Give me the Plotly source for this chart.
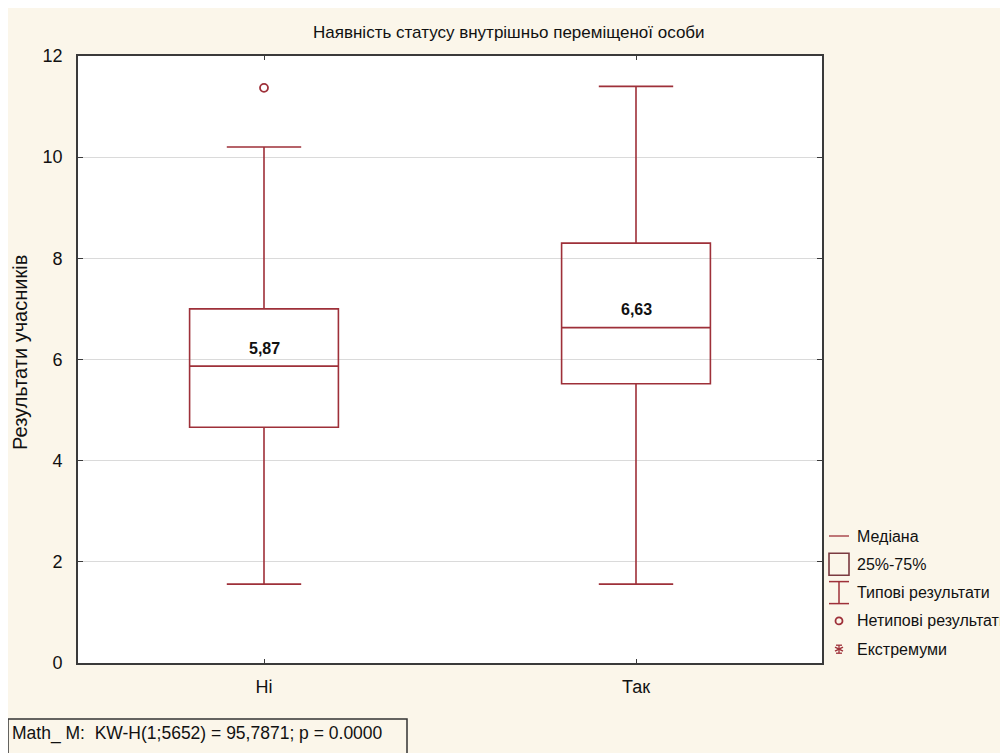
import plotly.graph_objects as go

# ---------------- data ----------------
categories = ["Ні", "Так"]
q1_vals = [4.66, 5.52]
median_vals = [5.87, 6.63]
q3_vals = [7.0, 8.3]
lower_whisker = [1.56, 1.56]
upper_whisker = [10.2, 11.4]
outlier_cats = ["Ні"]
outlier_vals = [11.37]
median_labels = ["5,87", "6,63"]
y_ticks = [0, 2, 4, 6, 8, 10, 12]

title_text = "Наявність статусу внутрішньо переміщеної особи"
y_title = "Результати учасників"
stat_text = "Math_ M:  KW-H(1;5652) = 95,7871; p = 0.0000"
legend_labels = ["Медіана", "25%-75%", "Типові результати", "Нетипові результати", "Екстремуми"]

# ---------------- style ----------------
RED = "#9E3039"
DARK = "#3A3A3A"
BG = "#FBF6EA"
FONT = "Liberation Sans, Arial, sans-serif"

OFF = 8  # page body margin
W, H = 1000, 745
ML, MR, MT, MB = 70, 186, 48, 90
PW = W - ML - MR
PH = H - MT - MB


def px_x(p):
    """page pixel x -> paper coordinate"""
    return (p - OFF - ML) / PW


def px_y(p):
    """page pixel y -> paper coordinate"""
    return (H - MB - (p - OFF)) / PH


fig = go.Figure()

fig.add_trace(go.Box(
    x=categories,
    q1=q1_vals,
    median=median_vals,
    q3=q3_vals,
    lowerfence=lower_whisker,
    upperfence=upper_whisker,
    width=0.4,
    whiskerwidth=0.5,
    boxpoints=False,
    line=dict(color=RED, width=1.6),
    fillcolor="rgba(255,255,255,0)",
    showlegend=False,
    hoverinfo="skip",
))

fig.add_trace(go.Scatter(
    x=outlier_cats,
    y=outlier_vals,
    mode="markers",
    marker=dict(symbol="circle-open", size=8, color=RED, line=dict(width=1.8, color=RED)),
    showlegend=False,
    hoverinfo="skip",
))

annotations = []
for c, m, lab in zip(categories, median_vals, median_labels):
    annotations.append(dict(
        x=c, y=m, xref="x", yref="y", text=f"<b>{lab}</b>", showarrow=False,
        yshift=18, font=dict(family=FONT, size=16, color="#111")
    ))

# title
annotations.append(dict(
    x=px_x(509), y=px_y(33), xref="paper", yref="paper", text=title_text,
    showarrow=False, xanchor="center", yanchor="middle",
    font=dict(family=FONT, size=17, color="#111")
))
# y axis title
annotations.append(dict(
    x=px_x(20), y=px_y(353), xref="paper", yref="paper", text=y_title,
    showarrow=False, textangle=-90, xanchor="center", yanchor="middle",
    font=dict(family=FONT, size=20, color="#111")
))
# statistic text
annotations.append(dict(
    x=px_x(10), y=px_y(733), xref="paper", yref="paper", text=stat_text,
    showarrow=False, xanchor="left", yanchor="middle",
    font=dict(family=FONT, size=17.5, color="#111")
))

shapes = []
# statistic box
shapes.append(dict(type="rect", xref="paper", yref="paper",
                   x0=px_x(8), x1=px_x(407), y0=px_y(719), y1=px_y(790),
                   line=dict(color="#333", width=1.5), fillcolor="rgba(0,0,0,0)", layer="above"))

# manual legend
row_y0, row_dy = 536, 28.3
sym_c, sym_half = 839, 10
text_x = 855
for i, lab in enumerate(legend_labels):
    yc = row_y0 + i * row_dy
    annotations.append(dict(
        x=px_x(text_x), y=px_y(yc), xref="paper", yref="paper", text=lab,
        showarrow=False, xanchor="left", yanchor="middle",
        font=dict(family=FONT, size=16, color="#111")
    ))
    if i == 0:
        shapes.append(dict(type="line", xref="paper", yref="paper",
                           x0=px_x(sym_c - sym_half), x1=px_x(sym_c + sym_half),
                           y0=px_y(yc), y1=px_y(yc), line=dict(color=RED, width=1.3)))
    elif i == 1:
        shapes.append(dict(type="rect", xref="paper", yref="paper",
                           x0=px_x(sym_c - sym_half), x1=px_x(sym_c + sym_half),
                           y0=px_y(yc - 11), y1=px_y(yc + 11),
                           line=dict(color="#7A3A40", width=1.6)))
    elif i == 2:
        for yy in (yc - 11, yc + 11):
            shapes.append(dict(type="line", xref="paper", yref="paper",
                               x0=px_x(sym_c - sym_half), x1=px_x(sym_c + sym_half),
                               y0=px_y(yy), y1=px_y(yy), line=dict(color=RED, width=1.5)))
        shapes.append(dict(type="line", xref="paper", yref="paper",
                           x0=px_x(sym_c), x1=px_x(sym_c),
                           y0=px_y(yc - 11), y1=px_y(yc + 11), line=dict(color=RED, width=1.5)))
    elif i == 3:
        shapes.append(dict(type="circle", xref="paper", yref="paper",
                           x0=px_x(sym_c - 3.5), x1=px_x(sym_c + 3.5),
                           y0=px_y(yc - 3.5), y1=px_y(yc + 3.5),
                           line=dict(color=RED, width=1.8)))
    else:
        s = 4
        for (dx0, dy0, dx1, dy1) in [(0, -s, 0, s), (-s, -2, s, 2), (-s, 2, s, -2),
                                     (-3, -s, 3, -s), (-3, s, 3, s)]:
            shapes.append(dict(type="line", xref="paper", yref="paper",
                               x0=px_x(sym_c + dx0), x1=px_x(sym_c + dx1),
                               y0=px_y(yc + dy0), y1=px_y(yc + dy1),
                               line=dict(color=RED, width=1.3)))

fig.update_layout(
    width=W, height=H,
    margin=dict(l=ML, r=MR, t=MT, b=MB),
    paper_bgcolor=BG,
    plot_bgcolor="white",
    font=dict(family=FONT, size=18, color="#111"),
    annotations=annotations,
    shapes=shapes,
    showlegend=False,
)

fig.update_xaxes(
    type="category", range=[-0.5, 1.5],
    showline=True, linecolor=DARK, linewidth=1.6, mirror="ticks",
    ticks="inside", ticklen=4, tickcolor=DARK,
    showgrid=False, zeroline=False,
    tickfont=dict(family=FONT, size=18, color="#111"),
    ticklabelstandoff=7,
)
fig.update_yaxes(
    range=[0, 12], tickvals=y_ticks, ticktext=[str(v) for v in y_ticks],
    showline=True, linecolor=DARK, linewidth=1.6, mirror="ticks",
    ticks="inside", ticklen=5, tickcolor=DARK,
    showgrid=True, gridcolor="#DADADA", gridwidth=1, zeroline=False,
    tickfont=dict(family=FONT, size=18, color="#111"),
    ticklabelstandoff=10,
)

fig.write_html("out.html")
